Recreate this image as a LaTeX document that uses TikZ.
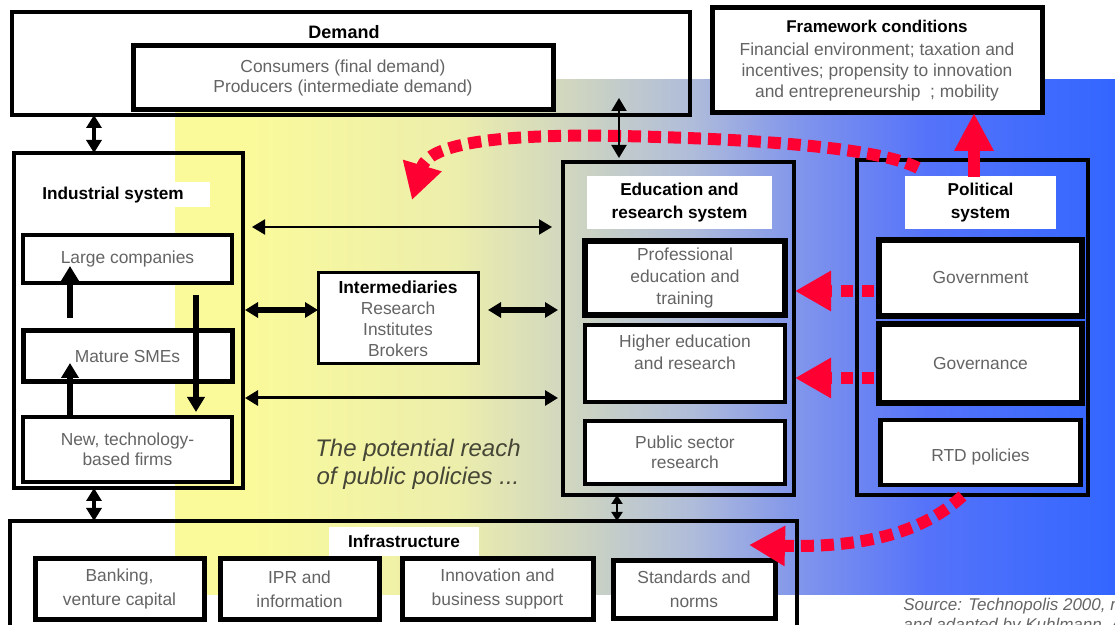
\documentclass[tikz,border=0pt]{standalone}
\usepackage{fontspec}
\setmainfont{Liberation Sans}
\usepackage{tikz}
\usetikzlibrary{arrows.meta,positioning,calc}

\definecolor{itemgray}{RGB}{100,100,100}
\definecolor{policyred}{RGB}{255,0,51}
\definecolor{reachtext}{RGB}{70,70,55}
\definecolor{reachyellow}{RGB}{250,250,155}
\definecolor{reachpale}{RGB}{236,238,172}
\definecolor{reachgrey}{RGB}{208,214,192}
\definecolor{reachmist}{RGB}{175,188,218}
\definecolor{reachlilac}{RGB}{130,150,235}
\definecolor{reachsky}{RGB}{85,115,250}
\definecolor{reachblue}{RGB}{51,102,255}

\pgfdeclarehorizontalshading{reach}{100bp}{%
  color(0bp)=(reachyellow); color(29bp)=(reachyellow); color(40bp)=(reachpale);
  color(46bp)=(reachgrey); color(52.5bp)=(reachmist); color(58bp)=(reachlilac);
  color(65bp)=(reachsky); color(75bp)=(reachblue); color(100bp)=(reachblue)}

\newcommand{\headtext}{\fontsize{8.6}{11.5}\selectfont\bfseries}
\newcommand{\itemtext}{\fontsize{8.7}{11}\selectfont}

\tikzset{
  sysbox/.style={draw=black, line width=2pt, inner sep=0pt, outer sep=0pt},
  itembox/.style={draw=black, fill=white, line width=2pt, inner sep=1pt, outer sep=0pt, align=center, font=\itemtext, text=itemgray},
  tagbox/.style={fill=white, inner sep=0pt, outer sep=0pt, align=center, font=\headtext},
  biarrow/.style={{Triangle[length=6.5pt,width=7.5pt]}-{Triangle[length=6.5pt,width=7.5pt]}, line width=1.5pt},
  smallbiarrow/.style={{Triangle[length=4.5pt,width=5.5pt]}-{Triangle[length=4.5pt,width=5.5pt]}, line width=1pt},
  growth/.style={-{Triangle[length=7.5pt,width=8.5pt]}, line width=2.75pt},
  policyflow/.style={-{Triangle[length=18pt,width=19pt]}, draw=policyred, line width=6pt, dash pattern=on 6.5pt off 3.5pt},
  policypush/.style={-{Triangle[length=19pt,width=18.5pt]}, draw=policyred, line width=6pt}
}

\begin{document}
\begin{tikzpicture}[x=0.5pt, y=-0.5pt]
  \useasboundingbox (0,0) rectangle (1115,625);
  \clip (0,0) rectangle (1115,625);
  \fill[white] (0,0) rectangle (1115,625);
  % reach of public policies
  \shade[shading=reach] (175,80) rectangle (1115,595);

  % demand and framework conditions
  \node[sysbox, minimum width=339pt, minimum height=51.5pt] (demand) at (351,63.5) {};
  \node[font=\fontsize{9}{11}\selectfont\bfseries] (demandhead) at (344,32) {Demand};
  \node[itembox, line width=2.5pt, minimum width=210pt, minimum height=32pt, font=\fontsize{8.7}{10}\selectfont] (consumers) at (343,78) {Consumers (final demand)\\Producers (intermediate demand)};
  \node[itembox, line width=2.5pt, minimum width=165pt, minimum height=52.5pt, font=\fontsize{8.7}{10.5}\selectfont] (framework) at (877,60.5) {\textcolor{black}{\fontsize{8.5}{10.5}\selectfont\bfseries Framework conditions}\\[1pt]Financial environment; taxation and\\incentives; propensity to innovation\\and entrepreneurship\ \ ; mobility};

  % industrial system
  \node[sysbox, minimum width=114.5pt, minimum height=167.5pt] (indsys) at (128.5,320.5) {};
  \node[tagbox, minimum width=97pt, minimum height=12.5pt] (indtag) at (113,195) {Industrial system};
  \node[itembox, line width=1.75pt, minimum width=104.5pt, minimum height=24pt] (large) at (127.5,259) {Large companies};
  \node[itembox, line width=2.5pt, minimum width=104.5pt, minimum height=25.5pt, below=24pt of large] (smes) {Mature SMEs};
  \node[itembox, minimum width=104.5pt, minimum height=32.5pt, below=17.5pt of smes, font=\fontsize{8.7}{10}\selectfont] (newfirms) {New, technology-\\based firms};

  % intermediaries
  \node[itembox, line width=1.5pt, minimum width=80pt, minimum height=45.5pt, font=\fontsize{8.7}{10.5}\selectfont] (interm) at (398,318.5) {\textcolor{black}{\bfseries Intermediaries}\\Research\\Institutes\\Brokers};
  \node[font=\fontsize{12}{14}\selectfont\itshape, text=reachtext, align=center] (reachnote) at (418,464) {The potential reach\\of public policies ...};

  % education and research system
  \node[sysbox, minimum width=115.5pt, minimum height=166.5pt] (edusys) at (678.5,328.5) {};
  \node[tagbox, minimum width=92.5pt, minimum height=26.5pt] (edutag) at (679.5,202.5) {Education and\\research system};
  \node[itembox, line width=3pt, minimum width=100pt, minimum height=37pt] (profedu) at (685,278) {Professional\\education and\\training};
  \node[itembox, minimum width=100pt, minimum height=38.5pt, below=5pt of profedu] (higheredu) {Higher education\\and research\\\mbox{}};
  \node[itembox, minimum width=100pt, minimum height=31.5pt, below=9.5pt of higheredu, font=\fontsize{8.7}{10}\selectfont] (pubsector) {Public sector\\research};

  % political system
  \node[sysbox, minimum width=115.5pt, minimum height=167.5pt] (polsys) at (972.5,327.5) {};
  \node[tagbox, minimum width=75.5pt, minimum height=26.5pt] (poltag) at (980.5,202.5) {Political\\system};
  \node[itembox, line width=3pt, minimum width=101.5pt, minimum height=38pt] (government) at (980.5,278) {Government};
  \node[itembox, line width=3pt, minimum width=101.5pt, minimum height=39.5pt, below=4pt of government] (governance) {Governance};
  \node[itembox, line width=2.25pt, minimum width=100pt, minimum height=32.5pt, below=8.5pt of governance] (rtd) {\mbox{}\\RTD policies};

  % infrastructure
  \node[sysbox, minimum width=393.5pt, minimum height=59.5pt] (infra) at (403.5,580.5) {};
  \node[tagbox, minimum width=75pt, minimum height=14.5pt] (infratag) at (404,541.5) {Infrastructure};
  \node[itembox, line width=2.5pt, minimum width=84.5pt, minimum height=30.5pt, font=\fontsize{8.7}{12}\selectfont] (banking) at (119.5,589.5) {Banking,\\venture capital};
  \node[itembox, line width=2.5pt, minimum width=79.5pt, minimum height=30.5pt, font=\fontsize{8.7}{12}\selectfont, right=8pt of banking] (ipr) {IPR and\\information};
  \node[itembox, line width=2.5pt, minimum width=95.5pt, minimum height=30.5pt, font=\fontsize{8.7}{12}\selectfont, right=11.5pt of ipr] (innov) {Innovation and\\business support};
  \node[itembox, line width=2.5pt, minimum width=81pt, minimum height=29pt, font=\fontsize{8.7}{12}\selectfont, right=10pt of innov] (standards) {Standards and\\norms};

  \node[anchor=north west, inner sep=0pt, align=left, font=\fontsize{8.5}{10}\selectfont\itshape, text=black!60] (source) at (903,598) {Source: Technopolis 2000, modified\\and adapted by Kuhlmann, Arnold 2001};

  % policy influence
  \coordinate (reachtip) at (412,200);
  \draw[policyflow] ($(polsys.north west)+(61,8)$) .. controls (880,148) and (760,139) .. (620,136) .. controls (520,134) and (430,140) .. (reachtip);
  \draw[policyflow, dash pattern=on 6pt off 4.5pt] ($(government.west |- 0,291)+(-5,0)$) -- ($(profedu.east |- 0,291)+(10,0)$);
  \draw[policyflow, dash pattern=on 6pt off 4.5pt] ($(governance.west |- 0,378)+(-5,0)$) -- ($(higheredu.east |- 0,378)+(10,0)$);
  \draw[policyflow] ($(polsys.south)+(-10,1)$) .. controls (925,530) and (870,548) .. ($(infra.north east)+(-48,24)$);
  \draw[policypush] ($(poltag.north)+(-6.5,1)$) -- (framework.south -| 974,0);

  % flows inside the industrial system
  \draw[growth] ($(smes.north -| 70,0)+(0,-13)$) -- ($(large.south -| 70,0)+(0,-17)$);
  \draw[growth] (newfirms.north -| 70,0) -- ($(smes.south -| 70,0)+(0,-19)$);
  \draw[growth] ($(large.south -| 196,0)+(0,12)$) -- ($(newfirms.north -| 196,0)+(0,-5)$);

  % links between the systems
  \draw[biarrow, line width=2pt] (demand.south -| 94,0) -- (indsys.north -| 94,0);
  \draw[biarrow, line width=2pt] (indsys.south -| 94,0) -- (infra.north -| 94,0);
  \draw[biarrow, line width=1pt] ($(demand.south -| 619,0)+(0,-17)$) -- ($(edusys.north -| 619,0)+(0,-4)$);
  \draw[smallbiarrow] (edusys.south -| 617,0) -- (infra.north -| 617,0);
  \draw[biarrow, line width=1pt] ($(indsys.east |- 0,227)+(9,0)$) -- ($(edusys.west |- 0,227)+(-11,0)$);
  \draw[biarrow, line width=3pt] ($(indsys.east |- 0,310)+(2,0)$) -- (interm.west |- 0,310);
  \draw[biarrow, line width=3pt] ($(interm.east |- 0,310)+(10,0)$) -- ($(edusys.west |- 0,310)+(-5,0)$);
  \draw[biarrow] ($(indsys.east |- 0,398)+(2,0)$) -- ($(edusys.west |- 0,398)+(-5,0)$);
\end{tikzpicture}
\end{document}
